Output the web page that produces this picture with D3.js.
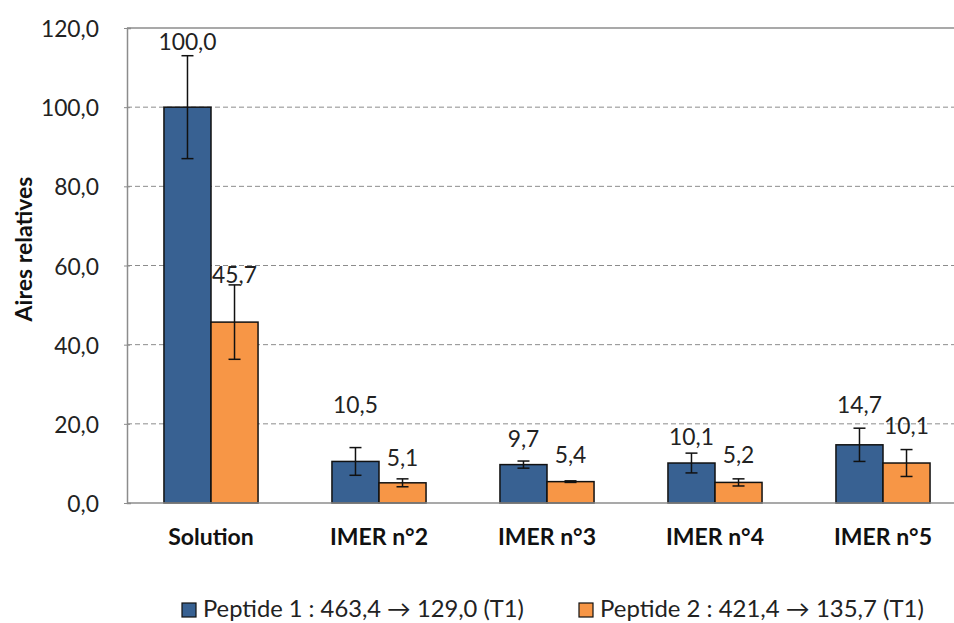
<!DOCTYPE html>
<html><head><meta charset="utf-8">
<script src="https://cdn.jsdelivr.net/npm/d3@7"></script>
<style>body{margin:0;background:#fff}svg{display:block}text{font-family:Lato,"Open Sans",sans-serif}</style>
</head><body>
<script>
const categories = ["Solution","IMER n°2","IMER n°3","IMER n°4","IMER n°5"];
const peptide1 = [100.0, 10.5, 9.7, 10.1, 14.7];
const peptide1Err = [13.0, 3.5, 0.9, 2.5, 4.2];
const peptide2 = [45.7, 5.1, 5.4, 5.2, 10.1];
const peptide2Err = [9.4, 1.0, 0.2, 0.9, 3.4];
const yTicks = [0,20,40,60,80,100,120];
const seriesNames = ["Peptide 1 : 463,4 \u2192 129,0 (T1)", "Peptide 2 : 421,4 \u2192 135,7 (T1)"];
const colors = ["#386192", "#F79646"];
// label lift above bar top (px), as placed in the original
const labelLift1 = [57, 48, 18, 18, 32];
const labelLift2 = [39, 17, 19, 19, 29];

const W = 954, H = 623;
const svg = d3.select("body").append("svg").attr("width", W).attr("height", H);
const mLeft = 127, mTop = 28, mBottom = 503;
const x = d3.scaleBand().domain(categories).range([mLeft, mLeft + 840]).padding(0);
const y = d3.scaleLinear().domain([0,120]).range([mBottom, mTop]);
const bw = x.bandwidth() * 0.28;
const fmt = v => d3.format(".1f")(v).replace(".", ",");
function squeeze(sel, f) {
  sel.each(function() {
    const w = this.getComputedTextLength();
    d3.select(this).attr("textLength", w * f).attr("lengthAdjust", "spacingAndGlyphs");
  });
}

// gridlines
svg.append("g").selectAll("line").data(yTicks.filter(t => t > 0 && t < 120)).join("line")
  .attr("x1", mLeft).attr("x2", W).attr("y1", d => y(d)).attr("y2", d => y(d))
  .attr("stroke", "#8c8c8c").attr("stroke-width", 1).attr("stroke-dasharray", "5,3");
// top border
svg.append("line").attr("x1", mLeft).attr("x2", W).attr("y1", y(120)).attr("y2", y(120))
  .attr("stroke", "#8c8c8c").attr("stroke-width", 1.5);

// y axis
const yAxis = d3.axisLeft(y).tickValues(yTicks).tickFormat(fmt).tickSize(-4).tickPadding(28);
const ga = svg.append("g").attr("transform", `translate(${mLeft},0)`).call(yAxis);
ga.select(".domain").attr("stroke", "#8c8c8c").attr("stroke-width", 1.5);
ga.selectAll(".tick line").attr("stroke", "#8c8c8c").attr("x1", -3).attr("x2", 3);
ga.selectAll(".tick text").attr("font-size", 24).attr("fill", "#222").attr("font-family", "Lato").attr("dy", "0.36em");
squeeze(ga.selectAll(".tick text"), 0.95);

const series = [
  {vals: peptide1, err: peptide1Err, lift: labelLift1, off: -1},
  {vals: peptide2, err: peptide2Err, lift: labelLift2, off: 0}
];
series.forEach((s, si) => {
  const g = svg.append("g");
  const cx = (c) => x(c) + x.bandwidth()/2 + s.off*bw;
  g.selectAll("rect").data(categories).join("rect")
    .attr("x", c => cx(c)).attr("width", bw)
    .attr("y", (c,i) => y(s.vals[i])).attr("height", (c,i) => mBottom - y(s.vals[i]))
    .attr("fill", colors[si]).attr("stroke", "#111").attr("stroke-width", 1.5);
  // error bars
  const eg = g.selectAll("g.err").data(categories).join("g").attr("class","err");
  eg.append("line").attr("x1", c => cx(c)+bw/2).attr("x2", c => cx(c)+bw/2)
    .attr("y1", (c,i) => y(s.vals[i]+s.err[i])).attr("y2", (c,i) => y(s.vals[i]-s.err[i]))
    .attr("stroke", "#111").attr("stroke-width", 1.5);
  [1,-1].forEach(sg => {
    eg.append("line").attr("x1", c => cx(c)+bw/2-6).attr("x2", c => cx(c)+bw/2+6)
      .attr("y1", (c,i) => y(s.vals[i]+sg*s.err[i])).attr("y2", (c,i) => y(s.vals[i]+sg*s.err[i]))
      .attr("stroke", "#111").attr("stroke-width", 1.5);
  });
  const lt = g.selectAll("text").data(categories).join("text")
    .attr("x", c => cx(c)+bw/2).attr("y", (c,i) => y(s.vals[i]) - s.lift[i])
    .attr("text-anchor", "middle").attr("font-size", 24).attr("fill", "#222")
    .text((c,i) => fmt(s.vals[i]));
  squeeze(lt, 0.95);
});

// x axis
svg.append("line").attr("x1", mLeft).attr("x2", W).attr("y1", mBottom).attr("y2", mBottom)
  .attr("stroke", "#8c8c8c").attr("stroke-width", 1.5);
svg.append("g").selectAll("text").data(categories).join("text")
  .attr("x", c => x(c) + x.bandwidth()/2).attr("y", 545)
  .attr("text-anchor", "middle").attr("font-size", 23).attr("font-weight", "bold").attr("fill", "#111")
  .text(d => d);

// y title
svg.append("text").attr("transform", "translate(32,249) rotate(-90)")
  .attr("text-anchor", "middle").attr("font-size", 23).attr("font-weight", "bold").attr("fill", "#111")
  .text("Aires relatives");

// legend
const legX = [182, 579];
const legW = [321, 324];
seriesNames.forEach((n, i) => {
  svg.append("rect").attr("x", legX[i]).attr("y", 603).attr("width", 14).attr("height", 14)
    .attr("fill", colors[i]).attr("stroke", "#111").attr("stroke-width", 1.2);
  const g = svg.append("g");
  const t = g.append("text").attr("x", 0).attr("y", 0).attr("font-size", 23).attr("fill", "#222").text(n);
  const sx = legW[i] / t.node().getComputedTextLength();
  g.attr("transform", `translate(${legX[i] + 21},617) scale(${sx},1)`);
});
</script>
</body></html>
